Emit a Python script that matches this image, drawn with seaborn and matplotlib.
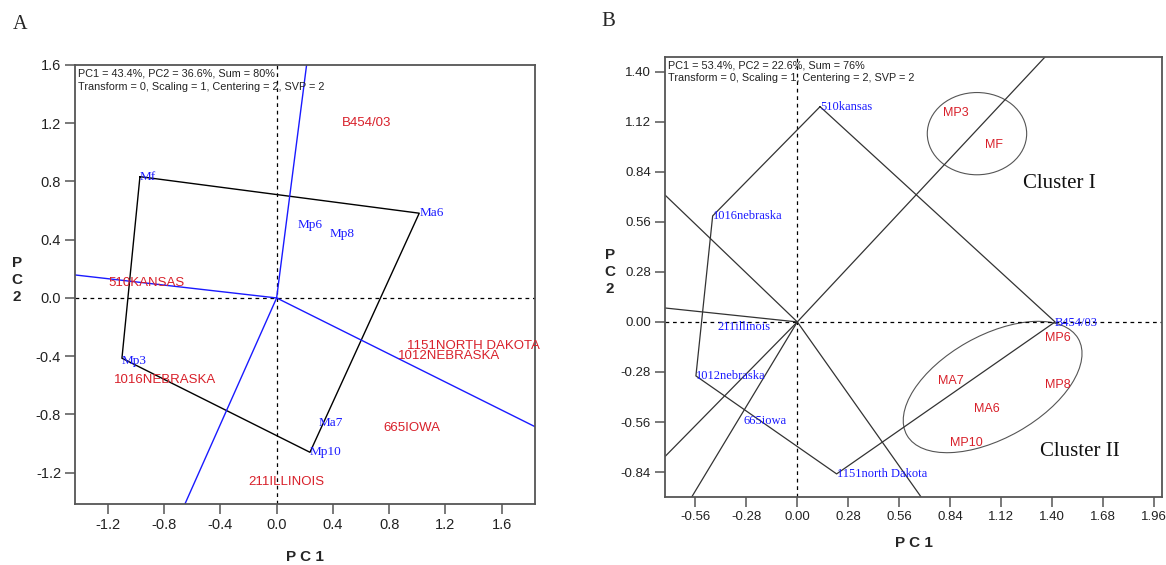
import matplotlib
matplotlib.use('Agg')
import matplotlib.pyplot as plt
from matplotlib.patches import Ellipse
import seaborn as sns

# -------------------------------
# data
# -------------------------------
# panel A : red labels (locations)
loc_a_names = ['B454/03', '510KANSAS', '1016NEBRASKA', '211ILLINOIS',
               '1151NORTH DAKOTA', '1012NEBRASKA', '665IOWA']
loc_a_x = [0.462, -1.198, -1.157, -0.202, 0.925, 0.865, 0.758]
loc_a_y = [1.20, 0.101, -0.563, -1.262, -0.327, -0.398, -0.895]

# panel A : blue labels (traits)
trt_a_names = ['Mf', 'Ma6', 'Mp6', 'Mp8', 'Mp3', 'Ma7', 'Mp10']
trt_a_x = [-0.972, 1.014, 0.147, 0.379, -1.10, 0.296, 0.237]
trt_a_y = [0.833, 0.582, 0.501, 0.44, -0.43, -0.856, -1.06]

# panel A : polygon (Mf -> Ma6 -> Mp10 -> Mp3 -> Mf) and rays from origin
poly_a_x = [-0.972, 1.014, 0.237, -1.10, -0.972]
poly_a_y = [0.833, 0.582, -1.06, -0.414, 0.833]
ray_a_x = [0.213, -0.652, -1.434, 1.837]
ray_a_y = [1.60, -1.415, 0.158, -0.884]

# panel B : blue labels (locations)
loc_b_names = ['510kansas', '1016nebraska', '211illinois', '1012nebraska',
               '665iowa', '1151north Dakota', 'B454/03']
loc_b_x = [0.125, -0.465, -0.437, -0.557, -0.293, 0.216, 1.416]
loc_b_y = [1.204, 0.593, -0.026, -0.302, -0.552, -0.85, -0.005]

# panel B : red labels (traits)
trt_b_names = ['MP3', 'MF', 'MP6', 'MA7', 'MP8', 'MA6', 'MP10']
trt_b_x = [0.799, 1.031, 1.361, 0.775, 1.361, 0.973, 0.839]
trt_b_y = [1.167, 0.99, -0.091, -0.33, -0.352, -0.487, -0.678]

# panel B : polygon and rays
poly_b_x = [0.125, 1.416, 0.216, -0.557, -0.465, 0.125]
poly_b_y = [1.204, 0.0, -0.85, -0.302, 0.593, 1.204]
ray_b_x = [1.361, -0.727, -0.727, -0.727, -0.58, 0.68]
ray_b_y = [1.482, 0.71, 0.078, -0.753, -0.979, -0.979]

# panel B : clusters (centre x, centre y, width, height, angle)
cluster_names = ['Cluster I', 'Cluster II']
cluster_cx = [0.987, 1.073]
cluster_cy = [1.053, -0.364]
cluster_w = [0.546, 1.085]
cluster_h = [0.46, 0.572]
cluster_ang = [0, 30]
cluster_tx = [1.242, 1.334]
cluster_ty = [0.772, -0.725]

# ticks
ticks_a = [-1.2, -0.8, -0.4, 0.0, 0.4, 0.8, 1.2, 1.6]
ticks_bx = [-0.56, -0.28, 0.0, 0.28, 0.56, 0.84, 1.12, 1.40, 1.68, 1.96]
ticks_by = [-0.84, -0.56, -0.28, 0.0, 0.28, 0.56, 0.84, 1.12, 1.40]

info_a = ['PC1 = 43.4%, PC2 = 36.6%, Sum = 80%',
          'Transform = 0, Scaling = 1, Centering = 2, SVP = 2']
info_b = ['PC1 = 53.4%, PC2 = 22.6%, Sum = 76%',
          'Transform = 0, Scaling = 1, Centering = 2, SVP = 2']

# -------------------------------
# style
# -------------------------------
sns.set_style('white')
plt.rcParams['font.family'] = ['Liberation Sans', 'DejaVu Sans']
plt.rcParams['axes.unicode_minus'] = False

SERIF = 'Liberation Serif'
RED = '#d8202a'
BLUE = '#1a1aff'

fig = plt.figure(figsize=(11.66, 5.65), dpi=100)
ax_a = fig.add_axes([0.0643, 0.108, 0.3945, 0.777])
ax_b = fig.add_axes([0.5703, 0.1204, 0.4262, 0.7788])


def style_axes(ax, fs):
    for s in ax.spines.values():
        s.set_color('#555555')
        s.set_linewidth(1.3)
    ax.tick_params(axis='both', direction='out', length=7, width=1.1,
                   color='#555555', labelsize=fs, labelcolor='#222222',
                   bottom=True, left=True, pad=3)
    ax.axhline(0, color='black', lw=0.9, ls=(0, (3, 3)), zorder=1)
    ax.axvline(0, color='black', lw=0.9, ls=(0, (3, 3)), zorder=1)


# -------------------------------
# panel A
# -------------------------------
sns.lineplot(x=poly_a_x, y=poly_a_y, sort=False, estimator=None,
             color='black', lw=1.0, ax=ax_a)
for rx, ry in zip(ray_a_x, ray_a_y):
    sns.lineplot(x=[0, rx], y=[0, ry], sort=False, estimator=None,
                 color='#1a1aff', lw=1.0, ax=ax_a)
for n, x, y in zip(trt_a_names, trt_a_x, trt_a_y):
    ax_a.text(x, y, n, color=BLUE, family=SERIF, fontsize=9.5,
              ha='left', va='center')
for n, x, y in zip(loc_a_names, loc_a_x, loc_a_y):
    ax_a.text(x, y, n, color=RED, fontsize=9.5, ha='left', va='center')

ax_a.set_xlim(-1.434, 1.837)
ax_a.set_ylim(-1.415, 1.60)
ax_a.set_xticks(ticks_a)
ax_a.set_yticks(ticks_a)
ax_a.set_xticklabels(['%.1f' % t for t in ticks_a])
ax_a.set_yticklabels(['%.1f' % t for t in ticks_a])
style_axes(ax_a, 10.5)
ax_a.text(0.006, 0.981, info_a[0], transform=ax_a.transAxes, fontsize=7.8,
          va='center', color='#222222')
ax_a.text(0.006, 0.95, info_a[1], transform=ax_a.transAxes, fontsize=7.8,
          va='center', color='#222222')
ax_a.set_xlabel('P C 1', fontsize=11, fontweight='bold', va='center')
ax_a.set_ylabel('P\nC\n2', fontsize=11, fontweight='bold', rotation=0,
                ha='center', va='center', linespacing=1.25)
ax_a.xaxis.set_label_coords(0.5, -0.121)
ax_a.yaxis.set_label_coords(-0.126, 0.51)

# -------------------------------
# panel B
# -------------------------------
sns.lineplot(x=poly_b_x, y=poly_b_y, sort=False, estimator=None,
             color='#333333', lw=0.9, ax=ax_b)
for rx, ry in zip(ray_b_x, ray_b_y):
    sns.lineplot(x=[0, rx], y=[0, ry], sort=False, estimator=None,
                 color='#333333', lw=0.9, ax=ax_b)
for n, x, y in zip(loc_b_names, loc_b_x, loc_b_y):
    ax_b.text(x, y, n, color=BLUE, family=SERIF, fontsize=9,
              ha='left', va='center')
for n, x, y in zip(trt_b_names, trt_b_x, trt_b_y):
    ax_b.text(x, y, n, color=RED, fontsize=9, ha='left', va='center')
for i in range(len(cluster_names)):
    ax_b.add_patch(Ellipse((cluster_cx[i], cluster_cy[i]), cluster_w[i],
                           cluster_h[i], angle=cluster_ang[i], fill=False,
                           ec='#555555', lw=0.8))
    ax_b.text(cluster_tx[i], cluster_ty[i], cluster_names[i], family=SERIF,
              fontsize=15, ha='left', va='center', color='#111111')

ax_b.set_xlim(-0.727, 2.003)
ax_b.set_ylim(-0.979, 1.482)
ax_b.set_xticks(ticks_bx)
ax_b.set_yticks(ticks_by)
ax_b.set_xticklabels(['%.2f' % t for t in ticks_bx])
ax_b.set_yticklabels(['%.2f' % t for t in ticks_by])
style_axes(ax_b, 9.5)
ax_b.text(0.006, 0.98, info_b[0], transform=ax_b.transAxes, fontsize=7.8,
          va='center', color='#222222')
ax_b.text(0.006, 0.952, info_b[1], transform=ax_b.transAxes, fontsize=7.8,
          va='center', color='#222222')
ax_b.set_xlabel('P C 1', fontsize=11, fontweight='bold', va='center')
ax_b.set_ylabel('P\nC\n2', fontsize=11, fontweight='bold', rotation=0,
                ha='center', va='center', linespacing=1.25)
ax_b.xaxis.set_label_coords(0.5, -0.105)
ax_b.yaxis.set_label_coords(-0.111, 0.511)

fig.text(0.0172, 0.956, 'A', family=SERIF, fontsize=14.5, ha='center', va='center')
fig.text(0.5217, 0.962, 'B', family=SERIF, fontsize=15, ha='center', va='center')

fig.savefig('out.png', dpi=100)
plt.close(fig)
